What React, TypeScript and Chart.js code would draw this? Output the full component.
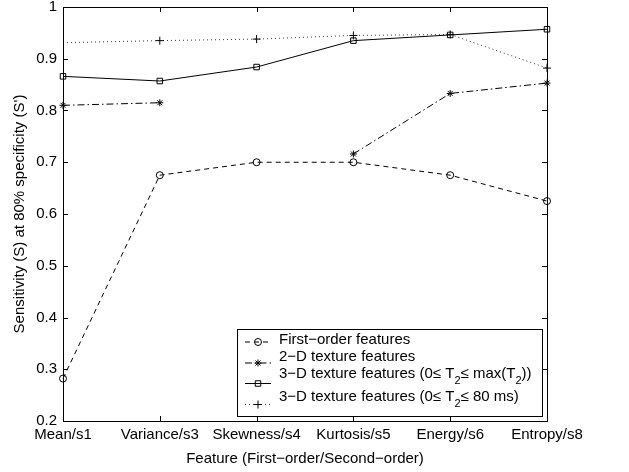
import React, { useEffect, useRef } from 'react';
import { Chart, registerables } from 'chart.js';

Chart.register(...registerables);

const categories = ['Mean/s1', 'Variance/s3', 'Skewness/s4', 'Kurtosis/s5', 'Energy/s6', 'Entropy/s8'];
const firstOrder = [0.282, 0.675, 0.7, 0.7, 0.675, 0.625];
const texture2D = [0.81, 0.815, null, 0.716, 0.833, 0.853];
const texture3DAll = [0.866, 0.857, 0.884, 0.935, 0.946, 0.957];
const texture3D80 = [0.931, 0.935, 0.938, 0.945, 0.947, 0.882];
const yTickValues = [0.2, 0.3, 0.4, 0.5, 0.6, 0.7, 0.8, 0.9, 1];

const FONT = '"Liberation Sans", Arial, Helvetica, sans-serif';
const INK = '#000';

function drawMarker(ctx: CanvasRenderingContext2D, style: string, x: number, y: number) {
  ctx.save();
  ctx.setLineDash([]);
  ctx.lineWidth = 1;
  ctx.strokeStyle = INK;
  ctx.beginPath();
  if (style === 'circle') {
    ctx.arc(x, y, 3.5, 0, Math.PI * 2);
  } else if (style === 'rect') {
    ctx.rect(x - 2.75, y - 2.75, 5.5, 5.5);
  } else if (style === 'cross') {
    ctx.moveTo(x - 4, y); ctx.lineTo(x + 4, y);
    ctx.moveTo(x, y - 4); ctx.lineTo(x, y + 4);
  } else if (style === 'star') {
    const r = 3.5;
    for (let k = 0; k < 4; k++) {
      const a = (k * Math.PI) / 4;
      ctx.moveTo(x - r * Math.cos(a), y - r * Math.sin(a));
      ctx.lineTo(x + r * Math.cos(a), y + r * Math.sin(a));
    }
  }
  ctx.stroke();
  ctx.restore();
}

export default function App() {
  const ref = useRef<HTMLCanvasElement>(null);

  useEffect(() => {
    const decor = {
      id: 'matlabDecor',
      afterDraw(chart: any) {
        const ctx: CanvasRenderingContext2D = chart.ctx;
        const { left, right, top, bottom } = chart.chartArea;
        const xs = chart.scales.x;
        const ys = chart.scales.y;
        ctx.save();
        ctx.strokeStyle = INK;
        ctx.lineWidth = 1;
        ctx.setLineDash([]);
        // box
        ctx.strokeRect(Math.round(left) + 0.5, Math.round(top) + 0.5, Math.round(right - left), Math.round(bottom - top));
        // inward ticks
        ctx.beginPath();
        yTickValues.forEach((v) => {
          const py = Math.round(ys.getPixelForValue(v)) + 0.5;
          ctx.moveTo(left, py); ctx.lineTo(left + 5, py);
          ctx.moveTo(right, py); ctx.lineTo(right - 5, py);
        });
        categories.forEach((_, i) => {
          const px = Math.round(xs.getPixelForValue(i)) + 0.5;
          ctx.moveTo(px, bottom); ctx.lineTo(px, bottom - 5);
          ctx.moveTo(px, top); ctx.lineTo(px, top + 5);
        });
        ctx.stroke();

        // axis titles
        ctx.fillStyle = INK;
        ctx.font = `15px ${FONT}`;
        ctx.textAlign = 'center';
        ctx.textBaseline = 'middle';
        ctx.fillText('Feature (First\u2212order/Second\u2212order)', (left + right) / 2, 459);
        ctx.save();
        ctx.translate(20, (top + bottom) / 2);
        ctx.rotate(-Math.PI / 2);
        ctx.fillText("Sensitivity (S) at 80% specificity (S')", 0, 0);
        ctx.restore();

        // legend
        const bx = 237.5, by = 329.5, bw = 305, bh = 87;
        ctx.fillStyle = '#fff';
        ctx.fillRect(bx, by, bw, bh);
        ctx.strokeRect(bx, by, bw, bh);

        const rows = [
          { parts: [['First\u2212order features', 0]], ty: 340, my: 341.5, dash: [5, 4], marker: 'circle', color: INK },
          { parts: [['2\u2212D texture features', 0]], ty: 357, my: 362.5, dash: [7, 3, 1.5, 3], marker: 'star', color: INK },
          { parts: [['3\u2212D texture features (0\u2264 T', 0], ['2', 1], ['\u2264 max(T', 0], ['2', 1], ['))', 0]], ty: 374, my: 383, dash: [], marker: 'rect', color: INK },
          { parts: [['3\u2212D texture features (0\u2264 T', 0], ['2', 1], ['\u2264 80 ms)', 0]], ty: 397, my: 404, dash: [1, 3], marker: 'cross', color: '#333' },
        ];
        rows.forEach((row) => {
          ctx.save();
          ctx.strokeStyle = row.color;
          ctx.setLineDash(row.dash as number[]);
          ctx.beginPath();
          ctx.moveTo(245, row.my + 0.5);
          ctx.lineTo(271, row.my + 0.5);
          ctx.stroke();
          ctx.restore();
          drawMarker(ctx, row.marker, 258, row.my + 0.5);
          let tx = 279;
          ctx.fillStyle = INK;
          ctx.textAlign = 'left';
          ctx.textBaseline = 'middle';
          (row.parts as [string, number][]).forEach(([s, sub]) => {
            if (sub) {
              ctx.font = `11px ${FONT}`;
              ctx.fillText(s, tx, row.ty + 7);
            } else {
              ctx.font = `15px ${FONT}`;
              ctx.fillText(s, tx, row.ty);
            }
            tx += ctx.measureText(s).width;
          });
        });
        ctx.restore();
      },
    };

    const chart = new Chart(ref.current as HTMLCanvasElement, {
      type: 'line',
      data: {
        labels: categories,
        datasets: [
          {
            label: 'First-order features',
            data: firstOrder,
            borderColor: INK,
            borderWidth: 1,
            borderDash: [5, 4],
            pointStyle: 'circle',
            pointRadius: 3.5,
            pointBorderWidth: 1,
            pointBorderColor: INK,
            pointBackgroundColor: 'rgba(0,0,0,0)',
            tension: 0,
            clip: false,
          },
          {
            label: '2-D texture features',
            data: texture2D,
            borderColor: INK,
            borderWidth: 1,
            borderDash: [7, 3, 1.5, 3],
            pointStyle: 'star',
            pointRadius: 3.5,
            pointBorderWidth: 1,
            pointBorderColor: INK,
            pointBackgroundColor: 'rgba(0,0,0,0)',
            spanGaps: false,
            tension: 0,
            clip: false,
          },
          {
            label: '3-D texture features (all T2)',
            data: texture3DAll,
            borderColor: INK,
            borderWidth: 1,
            pointStyle: 'rect',
            pointRadius: 3.9,
            pointBorderWidth: 1,
            pointBorderColor: INK,
            pointBackgroundColor: 'rgba(0,0,0,0)',
            tension: 0,
            clip: false,
          },
          {
            label: '3-D texture features (T2 <= 80 ms)',
            data: texture3D80,
            borderColor: '#333',
            borderWidth: 1,
            borderDash: [1, 3],
            pointStyle: 'cross',
            pointRadius: [0, 4, 4, 4, 4, 4],
            pointBorderWidth: 1,
            pointBorderColor: INK,
            pointBackgroundColor: 'rgba(0,0,0,0)',
            tension: 0,
            clip: false,
          },
        ],
      },
      options: {
        responsive: false,
        animation: false,
        events: [],
        layout: { padding: { top: 7, right: 82, left: 0, bottom: 0 } },
        plugins: { legend: { display: false }, tooltip: { enabled: false } },
        scales: {
          x: {
            type: 'category',
            offset: false,
            grid: { display: false, drawTicks: false },
            border: { display: false },
            ticks: { font: { family: FONT, size: 15 }, color: INK, padding: 5, maxRotation: 0, minRotation: 0, autoSkip: false },
            afterFit(s: any) { s.height = 51; s.paddingLeft = 0; s.paddingRight = 0; },
          },
          y: {
            min: 0.2,
            max: 1,
            grid: { display: false, drawTicks: false },
            border: { display: false },
            ticks: {
              stepSize: 0.1,
              font: { family: FONT, size: 15 },
              color: INK,
              padding: 6,
              callback: (v: any) => (Math.abs(Number(v) - 1) < 1e-9 ? '1' : Number(v).toFixed(1)),
            },
            afterFit(s: any) { s.width = 63; s.paddingTop = 0; s.paddingBottom = 0; },
          },
        },
      },
      plugins: [decor],
    } as any);

    return () => chart.destroy();
  }, []);

  return (
    <div style={{ position: 'fixed', left: 0, top: 0, width: 629, height: 472, background: '#fff' }}>
      <canvas ref={ref} width={629} height={472} style={{ display: 'block' }} />
    </div>
  );
}
